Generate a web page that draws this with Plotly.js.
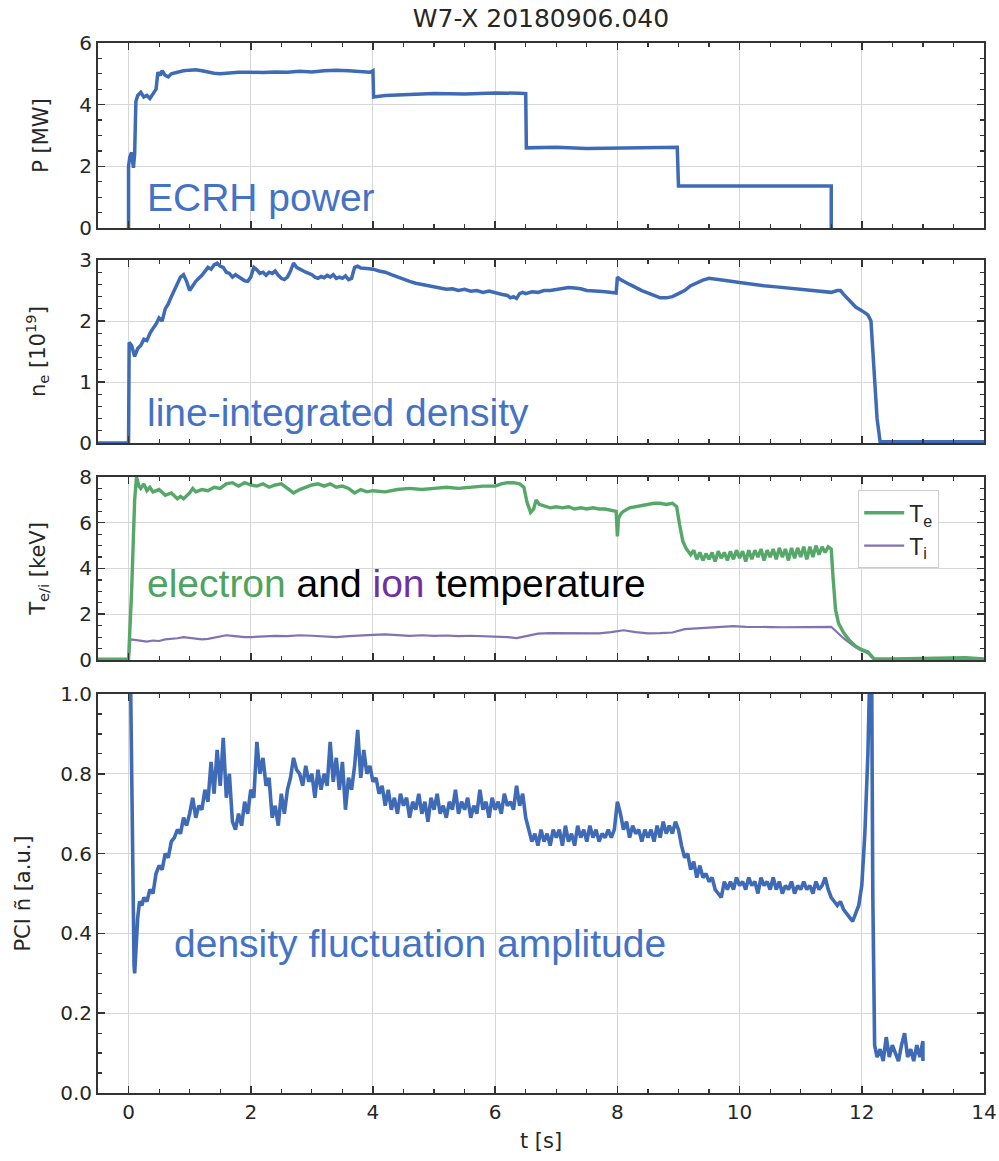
<!DOCTYPE html>
<html><head><meta charset="utf-8">
<script src="https://cdn.plot.ly/plotly-3.0.1.min.js"></script>
<style>body{margin:0;background:#fff}#chart{width:999px;height:1161px}</style>
</head><body><div id="chart"></div>
<script>
// ECRH power [MW]
const tP = [0.0,0.0,0.02,0.05,0.08,0.10,0.12,0.15,0.20,0.25,0.30,0.35,0.40,0.45,0.48,0.52,0.55,0.60,0.65,0.70,0.80,0.90,1.00,1.10,1.20,1.30,1.40,1.50,1.60,1.80,2.00,2.20,2.40,2.60,2.80,3.00,3.20,3.40,3.60,3.80,3.95,4.00,4.01,4.20,4.50,5.00,5.50,6.00,6.40,6.50,6.51,7.00,7.50,8.00,8.50,8.98,9.00,10.00,11.00,11.50,11.50];
const P  = [0.0,2.0,2.3,2.45,1.95,2.4,4.1,4.3,4.4,4.25,4.3,4.2,4.35,4.5,5.05,4.95,5.1,4.95,4.9,5.0,5.05,5.1,5.12,5.13,5.1,5.05,5.02,5.0,5.02,5.05,5.05,5.04,5.06,5.05,5.08,5.06,5.1,5.12,5.1,5.08,5.05,5.1,4.25,4.3,4.33,4.36,4.35,4.38,4.37,4.36,2.6,2.62,2.58,2.6,2.6,2.62,1.36,1.36,1.36,1.36,0.0];

// line-integrated density [1e19]
const tNe = [-0.5,0.0,0.01,0.05,0.10,0.15,0.20,0.25,0.30,0.35,0.40,0.45,0.50,0.55,0.60,0.65,0.70,0.75,0.80,0.85,0.90,0.95,1.00,1.05,1.10,1.20,1.30,1.35,1.40,1.45,1.50,1.55,1.60,1.65,1.70,1.75,1.80,1.85,1.90,1.95,2.00,2.05,2.10,2.15,2.20,2.25,2.30,2.35,2.40,2.45,2.50,2.55,2.60,2.65,2.70,2.75,2.80,2.85,2.90,2.95,3.00,3.05,3.10,3.15,3.20,3.25,3.30,3.35,3.40,3.45,3.50,3.55,3.60,3.65,3.70,3.75,3.80,3.90,4.00,4.10,4.20,4.30,4.40,4.50,4.60,4.70,4.80,4.90,5.00,5.10,5.20,5.30,5.40,5.50,5.60,5.70,5.80,5.90,6.00,6.10,6.20,6.25,6.30,6.35,6.40,6.45,6.50,6.60,6.70,6.80,6.90,7.00,7.10,7.20,7.30,7.40,7.50,7.60,7.70,7.80,7.90,7.98,8.00,8.05,8.20,8.40,8.60,8.70,8.80,8.90,9.00,9.10,9.20,9.30,9.40,9.50,9.60,9.80,10.00,10.20,10.40,10.60,10.80,11.00,11.20,11.40,11.50,11.60,11.65,11.70,11.80,11.90,12.00,12.10,12.15,12.20,12.25,12.30,14.00];
const ne  = [0.0,0.0,1.65,1.6,1.42,1.55,1.6,1.7,1.68,1.8,1.88,1.95,2.05,2.0,2.2,2.28,2.4,2.5,2.6,2.72,2.76,2.65,2.5,2.58,2.65,2.75,2.88,2.85,2.92,2.95,2.9,2.88,2.8,2.78,2.72,2.76,2.73,2.7,2.66,2.65,2.72,2.88,2.84,2.78,2.8,2.75,2.8,2.78,2.82,2.75,2.7,2.68,2.72,2.82,2.95,2.88,2.85,2.82,2.8,2.78,2.76,2.72,2.7,2.73,2.71,2.75,2.72,2.76,2.7,2.72,2.7,2.74,2.68,2.7,2.88,2.9,2.87,2.86,2.85,2.82,2.8,2.76,2.72,2.68,2.65,2.62,2.6,2.58,2.55,2.54,2.52,2.53,2.5,2.52,2.49,2.5,2.47,2.49,2.46,2.44,2.42,2.38,2.4,2.37,2.45,2.47,2.45,2.48,2.47,2.5,2.5,2.52,2.53,2.55,2.54,2.53,2.5,2.5,2.49,2.48,2.47,2.46,2.72,2.68,2.6,2.5,2.42,2.38,2.38,2.4,2.45,2.5,2.58,2.63,2.67,2.7,2.69,2.66,2.63,2.6,2.58,2.56,2.54,2.52,2.5,2.47,2.47,2.5,2.5,2.44,2.33,2.23,2.17,2.1,2.0,1.2,0.4,0.02,0.02];

// electron temperature [keV]
const tTe = [-0.5,0.0,0.05,0.10,0.13,0.17,0.20,0.25,0.30,0.35,0.40,0.50,0.60,0.70,0.80,0.85,0.90,1.00,1.05,1.10,1.20,1.30,1.40,1.50,1.60,1.70,1.80,1.90,2.00,2.10,2.20,2.30,2.40,2.50,2.60,2.70,2.80,2.90,3.00,3.10,3.20,3.30,3.40,3.50,3.60,3.70,3.80,3.90,4.00,4.20,4.40,4.60,4.80,5.00,5.20,5.40,5.60,5.80,6.00,6.10,6.20,6.30,6.40,6.47,6.52,6.58,6.63,6.67,6.72,6.80,6.90,7.00,7.10,7.20,7.30,7.40,7.50,7.60,7.70,7.80,7.90,7.98,8.00,8.02,8.06,8.10,8.20,8.30,8.40,8.50,8.60,8.70,8.80,8.90,8.97,9.02,9.07,9.12,9.20,9.25,9.30,9.35,9.40,9.45,9.50,9.55,9.60,9.65,9.70,9.75,9.80,9.85,9.90,9.95,10.00,10.05,10.10,10.15,10.20,10.25,10.30,10.35,10.40,10.45,10.50,10.55,10.60,10.65,10.70,10.75,10.80,10.85,10.90,10.95,11.00,11.05,11.10,11.15,11.20,11.25,11.30,11.35,11.40,11.45,11.50,11.53,11.57,11.62,11.70,11.80,11.90,12.00,12.10,12.15,12.20,12.50,13.00,13.50,13.70,14.00];
const Te  = [0.03,0.03,3.0,7.0,8.0,7.6,7.5,7.7,7.4,7.55,7.35,7.45,7.2,7.3,7.05,7.15,7.05,7.3,7.5,7.35,7.45,7.4,7.55,7.5,7.7,7.75,7.6,7.75,7.65,7.6,7.7,7.55,7.65,7.7,7.5,7.3,7.45,7.55,7.65,7.7,7.6,7.7,7.55,7.6,7.5,7.3,7.45,7.35,7.4,7.35,7.45,7.5,7.45,7.5,7.55,7.5,7.55,7.6,7.6,7.7,7.75,7.75,7.7,7.55,6.9,6.45,6.6,7.0,6.8,6.75,6.65,6.7,6.65,6.7,6.6,6.65,6.6,6.65,6.6,6.6,6.55,6.5,5.4,6.2,6.4,6.5,6.65,6.7,6.75,6.8,6.85,6.85,6.8,6.85,6.7,5.9,5.2,4.9,4.6,4.8,4.4,4.7,4.35,4.65,4.4,4.7,4.3,4.75,4.45,4.7,4.35,4.75,4.4,4.8,4.45,4.75,4.3,4.8,4.4,4.8,4.5,4.85,4.35,4.8,4.5,4.85,4.4,4.9,4.5,4.85,4.35,4.9,4.45,4.9,4.5,4.95,4.4,4.95,4.5,5.0,4.6,4.95,4.7,4.95,4.85,3.6,2.2,1.6,1.2,0.85,0.6,0.45,0.35,0.2,0.05,0.05,0.06,0.08,0.1,0.05];

// ion temperature [keV]
const tTi = [0.0,0.03,0.10,0.20,0.30,0.40,0.50,0.60,0.70,0.80,0.90,1.00,1.10,1.20,1.30,1.40,1.50,1.60,1.70,1.80,1.90,2.00,2.20,2.40,2.60,2.80,3.00,3.20,3.40,3.60,3.80,4.00,4.20,4.40,4.60,4.80,5.00,5.20,5.40,5.60,5.80,6.00,6.20,6.35,6.50,6.70,6.90,7.10,7.30,7.50,7.70,7.90,8.10,8.30,8.50,8.70,8.90,9.10,9.30,9.50,9.70,9.90,10.10,10.30,10.50,10.70,10.90,11.10,11.30,11.50,11.60,11.70,11.80,11.90,12.00,12.10,12.15,12.20,14.00];
const Ti  = [0.0,0.9,0.88,0.85,0.8,0.85,0.83,0.9,0.92,0.95,1.0,0.97,0.95,0.9,0.92,0.98,1.05,1.08,1.05,1.02,1.0,1.0,1.03,1.05,1.04,1.08,1.06,1.02,1.0,1.04,1.08,1.1,1.12,1.07,1.05,1.08,1.05,1.07,1.04,1.06,1.05,1.04,1.0,0.96,1.05,1.15,1.17,1.16,1.18,1.17,1.16,1.22,1.3,1.22,1.16,1.17,1.2,1.35,1.38,1.42,1.45,1.48,1.45,1.46,1.44,1.43,1.44,1.45,1.43,1.45,1.2,0.95,0.75,0.55,0.4,0.3,0.15,0.03,0.03];

// PCI density fluctuation amplitude [a.u.]
const tPCI = [0.02,0.06,0.09,0.10,0.12,0.15,0.18,0.22,0.25,0.30,0.35,0.40,0.45,0.50,0.55,0.60,0.65,0.70,0.75,0.80,0.85,0.90,0.95,1.00,1.05,1.10,1.15,1.20,1.25,1.30,1.35,1.40,1.45,1.50,1.55,1.60,1.65,1.70,1.75,1.80,1.85,1.90,1.95,2.00,2.05,2.10,2.15,2.20,2.25,2.30,2.35,2.40,2.45,2.50,2.55,2.60,2.65,2.70,2.75,2.80,2.85,2.90,2.95,3.00,3.05,3.10,3.15,3.20,3.25,3.30,3.35,3.40,3.45,3.50,3.55,3.60,3.65,3.70,3.75,3.80,3.85,3.90,3.95,4.00,4.05,4.10,4.15,4.20,4.25,4.30,4.35,4.40,4.45,4.50,4.55,4.60,4.65,4.70,4.75,4.80,4.85,4.90,4.95,5.00,5.05,5.10,5.15,5.20,5.25,5.30,5.35,5.40,5.45,5.50,5.55,5.60,5.65,5.70,5.75,5.80,5.85,5.90,5.95,6.00,6.05,6.10,6.15,6.20,6.25,6.30,6.35,6.40,6.45,6.50,6.55,6.60,6.65,6.70,6.75,6.80,6.85,6.90,6.95,7.00,7.05,7.10,7.15,7.20,7.25,7.30,7.35,7.40,7.45,7.50,7.55,7.60,7.65,7.70,7.75,7.80,7.85,7.90,7.95,8.00,8.05,8.10,8.15,8.20,8.25,8.30,8.35,8.40,8.45,8.50,8.55,8.60,8.65,8.70,8.75,8.80,8.85,8.90,8.95,9.00,9.05,9.10,9.15,9.20,9.25,9.30,9.35,9.40,9.45,9.50,9.55,9.60,9.65,9.70,9.75,9.80,9.85,9.90,9.95,10.00,10.05,10.10,10.15,10.20,10.25,10.30,10.35,10.40,10.45,10.50,10.55,10.60,10.65,10.70,10.75,10.80,10.85,10.90,10.95,11.00,11.05,11.10,11.15,11.20,11.25,11.30,11.35,11.40,11.45,11.50,11.55,11.60,11.65,11.70,11.75,11.80,11.85,11.90,11.95,12.00,12.05,12.10,12.13,12.16,12.18,12.21,12.25,12.30,12.35,12.40,12.45,12.50,12.55,12.60,12.65,12.70,12.75,12.80,12.85,12.90,12.95,13.00,13.00];
const PCI  = [1.20,0.60,0.32,0.30,0.36,0.44,0.48,0.47,0.49,0.48,0.51,0.50,0.55,0.57,0.56,0.60,0.59,0.63,0.64,0.66,0.65,0.69,0.67,0.70,0.74,0.69,0.72,0.71,0.76,0.73,0.83,0.75,0.86,0.77,0.89,0.74,0.80,0.68,0.66,0.70,0.67,0.73,0.70,0.76,0.74,0.88,0.80,0.84,0.77,0.79,0.69,0.72,0.67,0.75,0.70,0.76,0.79,0.84,0.81,0.80,0.77,0.82,0.78,0.80,0.74,0.81,0.76,0.80,0.77,0.88,0.78,0.84,0.76,0.83,0.71,0.79,0.76,0.82,0.91,0.79,0.86,0.80,0.82,0.78,0.79,0.75,0.77,0.72,0.76,0.71,0.74,0.70,0.75,0.72,0.74,0.69,0.73,0.71,0.75,0.70,0.73,0.68,0.74,0.71,0.75,0.70,0.72,0.69,0.73,0.71,0.76,0.70,0.73,0.71,0.74,0.69,0.72,0.70,0.76,0.71,0.73,0.69,0.74,0.71,0.73,0.70,0.75,0.72,0.73,0.71,0.77,0.72,0.75,0.69,0.66,0.63,0.65,0.62,0.66,0.63,0.65,0.62,0.66,0.64,0.66,0.62,0.67,0.63,0.65,0.62,0.67,0.64,0.66,0.63,0.67,0.64,0.66,0.63,0.65,0.64,0.66,0.64,0.66,0.73,0.70,0.66,0.68,0.64,0.67,0.65,0.66,0.63,0.66,0.64,0.66,0.63,0.67,0.64,0.68,0.65,0.67,0.65,0.68,0.66,0.62,0.59,0.60,0.56,0.58,0.54,0.57,0.54,0.55,0.53,0.54,0.51,0.50,0.49,0.53,0.51,0.53,0.51,0.54,0.52,0.53,0.51,0.54,0.52,0.53,0.50,0.54,0.52,0.53,0.51,0.54,0.51,0.53,0.50,0.52,0.51,0.53,0.50,0.52,0.51,0.53,0.51,0.52,0.50,0.53,0.51,0.52,0.54,0.51,0.49,0.48,0.47,0.48,0.46,0.45,0.44,0.43,0.45,0.47,0.52,0.65,0.85,1.05,1.10,0.50,0.12,0.09,0.11,0.08,0.14,0.09,0.12,0.10,0.08,0.12,0.15,0.09,0.11,0.08,0.12,0.09,0.13,0.08];

const BLUE = '#3f6bb6', GREEN = '#55a868', PURPLE = '#8172b2';
const AXF = 'DejaVu Sans';

function xax(anchor, labels) {
  return {
    anchor: anchor, range: [-0.5, 14], tick0: 0, dtick: 2,
    ticks: 'inside', ticklen: 7, tickwidth: 1.5, tickcolor: '#333',
    showline: true, linecolor: '#333', linewidth: 2, mirror: 'ticks',
    showgrid: true, gridcolor: '#d6d6d6', gridwidth: 1, zeroline: false,
    showticklabels: labels,
    tickfont: {family: AXF, size: 20, color: '#262626'},
    minor: {ticks: 'inside', ticklen: 4, tickwidth: 1.2, tickcolor: '#333', dtick: 0.5, showgrid: false}
  };
}
function yax(dom, rng, dt, mdt, title, fmt, standoff) {
  return {
    domain: dom, range: rng, tick0: 0, dtick: dt, tickformat: fmt,
    ticks: 'inside', ticklen: 7, tickwidth: 1.5, tickcolor: '#333',
    showline: true, linecolor: '#333', linewidth: 2, mirror: 'ticks',
    showgrid: true, gridcolor: '#d6d6d6', gridwidth: 1, zeroline: false,
    tickfont: {family: AXF, size: 20, color: '#262626'},
    title: {text: title, font: {family: AXF, size: 21, color: '#262626'}, standoff: standoff},
    automargin: false,
    minor: {ticks: 'inside', ticklen: 4, tickwidth: 1.2, tickcolor: '#333', dtick: mdt, showgrid: false}
  };
}

const traces = [
  {x: tP, y: P, xaxis: 'x', yaxis: 'y', mode: 'lines', line: {color: BLUE, width: 3.5}, showlegend: false},
  {x: tNe, y: ne, xaxis: 'x2', yaxis: 'y2', mode: 'lines', line: {color: BLUE, width: 3.5}, showlegend: false},
  {x: tTi, y: Ti, xaxis: 'x3', yaxis: 'y3', mode: 'lines', name: 'T<sub>i</sub>', line: {color: PURPLE, width: 2.2}},
  {x: tTe, y: Te, xaxis: 'x3', yaxis: 'y3', mode: 'lines', name: 'T<sub>e</sub>', line: {color: GREEN, width: 3.4}},
  {x: tPCI, y: PCI, xaxis: 'x4', yaxis: 'y4', mode: 'lines', line: {color: BLUE, width: 3.6}, showlegend: false}
];

const x4 = xax('y4', true);
x4.title = {text: 't [s]', font: {family: AXF, size: 21, color: '#262626'}, standoff: 10};

const layout = {
  width: 999, height: 1161,
  margin: {l: 98, r: 15, t: 43, b: 68},
  paper_bgcolor: '#ffffff', plot_bgcolor: '#ffffff',
  title: {text: 'W7-X 20180906.040', font: {family: AXF, size: 25, color: '#262626'}, x: 0.5415, xanchor: 'center', y: 0.984, yanchor: 'middle'},
  xaxis: xax('y', false),
  xaxis2: xax('y2', false),
  xaxis3: xax('y3', false),
  xaxis4: x4,
  yaxis: yax([0.8238, 1.0], [0, 6], 2, 0.5, 'P [MW]', '', 25),
  yaxis2: yax([0.6190, 0.7933], [0, 3], 1, 0.2, 'n<sub>e</sub> [10<sup>19</sup>]', '', 28),
  yaxis3: yax([0.4124, 0.5867], [0, 8], 2, 0.5, 'T<sub>e/i</sub> [keV]', '', 28),
  yaxis4: yax([0, 0.38], [0, 1.0], 0.2, 0.05, 'PCI ñ [a.u.]', '.1f', 24),
  showlegend: true,
  legend: {x: 0.858, y: 0.574, xanchor: 'left', yanchor: 'top', traceorder: 'reversed',
           bgcolor: 'rgba(255,255,255,0.9)', bordercolor: '#cccccc', borderwidth: 1,
           font: {family: 'Liberation Sans', size: 23, color: '#262626'}, itemwidth: 40},
  annotations: [
    {text: 'ECRH power', xref: 'x', yref: 'y', x: 0.27, y: 1.0, xanchor: 'left', yanchor: 'middle', showarrow: false,
     font: {family: 'Liberation Sans', size: 39, color: '#4472c4'}},
    {text: 'line-integrated density', xref: 'x2', yref: 'y2', x: 0.27, y: 0.5, xanchor: 'left', yanchor: 'middle', showarrow: false,
     font: {family: 'Liberation Sans', size: 39, color: '#4472c4'}},
    {text: '<span style="color:#4ea35e">electron</span> and <span style="color:#7030a0">ion</span> temperature', xref: 'x3', yref: 'y3', x: 0.27, y: 3.36, xanchor: 'left', yanchor: 'middle', showarrow: false,
     font: {family: 'Liberation Sans', size: 39, color: '#000000'}},
    {text: 'density fluctuation amplitude', xref: 'x4', yref: 'y4', x: 0.71, y: 0.375, xanchor: 'left', yanchor: 'middle', showarrow: false,
     font: {family: 'Liberation Sans', size: 39, color: '#4472c4'}}
  ]
};

Plotly.newPlot('chart', traces, layout, {displayModeBar: false, staticPlot: true});
</script></body></html>
